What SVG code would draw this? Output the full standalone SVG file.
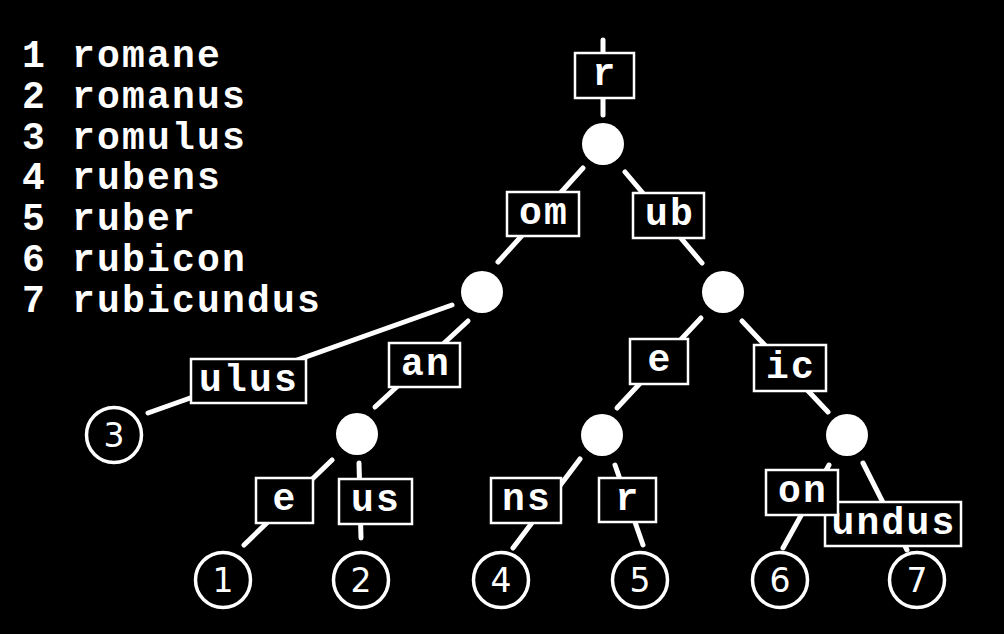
<svg xmlns="http://www.w3.org/2000/svg" width="1004" height="634" viewBox="0 0 1004 634">
<style>
.bg{fill:#000}
.list{font-family:"Liberation Mono",monospace;font-weight:bold;font-size:38px;letter-spacing:2.2px;fill:#fff}
.edge{stroke:#fff;stroke-width:5;stroke-linecap:round;fill:none}
.box{fill:#000;stroke:#fff;stroke-width:2.5}
.lbl{font-family:"Liberation Mono",monospace;font-weight:bold;font-size:38px;letter-spacing:2.2px;fill:#fff;text-anchor:middle}
.node{fill:#fff}
.leaf{fill:#000;stroke:#fff;stroke-width:3.5}
.num{font-family:"DejaVu Sans",sans-serif;font-size:33px;fill:#fff;text-anchor:middle}
</style>
<rect class="bg" x="0" y="0" width="1004" height="634"/>
<g id="legend">
<text class="list" x="22" y="67">1 romane</text>
<text class="list" x="22" y="108">2 romanus</text>
<text class="list" x="22" y="149">3 romulus</text>
<text class="list" x="22" y="189">4 rubens</text>
<text class="list" x="22" y="230">5 ruber</text>
<text class="list" x="22" y="271">6 rubicon</text>
<text class="list" x="22" y="312">7 rubicundus</text>
</g>
<g id="connectors">
<line class="edge" x1="603" y1="40" x2="603" y2="115"/>
<line class="edge" x1="583" y1="168" x2="498" y2="262"/>
<line class="edge" x1="625" y1="172" x2="702" y2="263"/>
<line class="edge" x1="452" y1="305" x2="148" y2="413"/>
<line class="edge" x1="468" y1="321" x2="375" y2="407"/>
<line class="edge" x1="332" y1="460" x2="244" y2="545"/>
<line class="edge" x1="359" y1="463" x2="361" y2="538"/>
<line class="edge" x1="701" y1="318" x2="617" y2="408"/>
<line class="edge" x1="742" y1="321" x2="828" y2="412"/>
<line class="edge" x1="580" y1="459" x2="513" y2="548"/>
<line class="edge" x1="615" y1="465" x2="643" y2="545"/>
<line class="edge" x1="829" y1="465" x2="783" y2="548"/>
<line class="edge" x1="863" y1="463" x2="907" y2="550"/>
</g>
<g id="edge-labels">
<g id="lbl-r"><rect class="box" x="575" y="53" width="59" height="45"/><text class="lbl" x="605" y="85">r</text></g>
<g id="lbl-om"><rect class="box" x="507" y="192" width="72" height="44"/><text class="lbl" x="544" y="224">om</text></g>
<g id="lbl-ub"><rect class="box" x="633" y="193" width="71" height="45"/><text class="lbl" x="670" y="225">ub</text></g>
<g id="lbl-ulus"><rect class="box" x="191" y="359" width="115" height="44"/><text class="lbl" x="249" y="391">ulus</text></g>
<g id="lbl-an"><rect class="box" x="389" y="343" width="71" height="44"/><text class="lbl" x="426" y="375">an</text></g>
<g id="lbl-e1"><rect class="box" x="256" y="478" width="57" height="45"/><text class="lbl" x="285" y="510">e</text></g>
<g id="lbl-us"><rect class="box" x="339" y="479" width="73" height="45"/><text class="lbl" x="376" y="511">us</text></g>
<g id="lbl-e2"><rect class="box" x="630" y="339" width="58" height="45"/><text class="lbl" x="660" y="371">e</text></g>
<g id="lbl-ic"><rect class="box" x="754" y="345" width="72" height="46"/><text class="lbl" x="791" y="378">ic</text></g>
<g id="lbl-ns"><rect class="box" x="491" y="478" width="70" height="45"/><text class="lbl" x="527" y="510">ns</text></g>
<g id="lbl-r2"><rect class="box" x="599" y="478" width="57" height="44"/><text class="lbl" x="628" y="510">r</text></g>
<g id="lbl-undus"><rect class="box" x="825" y="502" width="136" height="44"/><text class="lbl" x="894" y="534">undus</text></g>
<g id="lbl-on"><rect class="box" x="766" y="470" width="72" height="45"/><text class="lbl" x="803" y="502">on</text></g>
</g>
<g id="n-root"><circle class="node" cx="603" cy="144" r="21"/></g>
<g id="n-rom"><circle class="node" cx="482" cy="292" r="21"/></g>
<g id="n-rub"><circle class="node" cx="723" cy="292" r="21"/></g>
<g id="n-roman"><circle class="node" cx="357" cy="434" r="21"/></g>
<g id="n-rube"><circle class="node" cx="602" cy="435" r="21"/></g>
<g id="n-rubic"><circle class="node" cx="847" cy="435" r="21"/></g>
<g id="leaf-3"><circle class="leaf" cx="114" cy="435" r="27.5"/><text class="num" x="114" y="447">3</text></g>
<g id="leaf-1"><circle class="leaf" cx="223" cy="580" r="27.5"/><text class="num" x="223" y="592">1</text></g>
<g id="leaf-2"><circle class="leaf" cx="361" cy="580" r="27.5"/><text class="num" x="361" y="592">2</text></g>
<g id="leaf-4"><circle class="leaf" cx="501" cy="580" r="27.5"/><text class="num" x="501" y="592">4</text></g>
<g id="leaf-5"><circle class="leaf" cx="640" cy="580" r="27.5"/><text class="num" x="640" y="592">5</text></g>
<g id="leaf-6"><circle class="leaf" cx="780" cy="580" r="27.5"/><text class="num" x="780" y="592">6</text></g>
<g id="leaf-7"><circle class="leaf" cx="917" cy="580" r="27.5"/><text class="num" x="917" y="592">7</text></g>
</svg>
